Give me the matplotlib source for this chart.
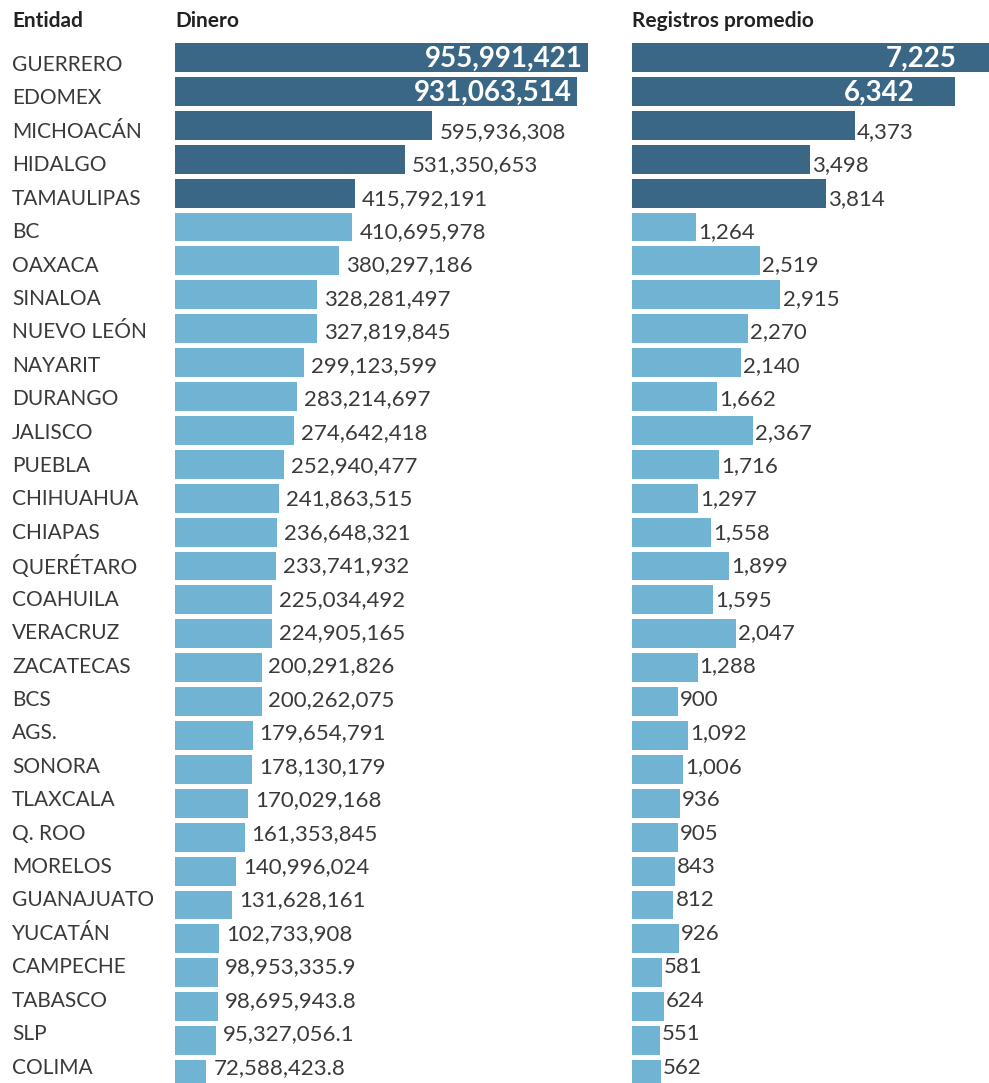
import matplotlib
matplotlib.use("Agg")
import matplotlib.pyplot as plt
from matplotlib.transforms import blended_transform_factory

entidades = ["GUERRERO", "EDOMEX", "MICHOACÁN", "HIDALGO", "TAMAULIPAS", "BC", "OAXACA",
             "SINALOA", "NUEVO LEÓN", "NAYARIT", "DURANGO", "JALISCO", "PUEBLA", "CHIHUAHUA",
             "CHIAPAS", "QUERÉTARO", "COAHUILA", "VERACRUZ", "ZACATECAS", "BCS", "AGS.",
             "SONORA", "TLAXCALA", "Q. ROO", "MORELOS", "GUANAJUATO", "YUCATÁN", "CAMPECHE",
             "TABASCO", "SLP", "COLIMA"]
dinero = [955991421, 931063514, 595936308, 531350653, 415792191, 410695978, 380297186,
          328281497, 327819845, 299123599, 283214697, 274642418, 252940477, 241863515,
          236648321, 233741932, 225034492, 224905165, 200291826, 200262075, 179654791,
          178130179, 170029168, 161353845, 140996024, 131628161, 102733908, 98953335.9,
          98695943.8, 95327056.1, 72588423.8]
dinero_txt = ["955,991,421", "931,063,514", "595,936,308", "531,350,653", "415,792,191",
              "410,695,978", "380,297,186", "328,281,497", "327,819,845", "299,123,599",
              "283,214,697", "274,642,418", "252,940,477", "241,863,515", "236,648,321",
              "233,741,932", "225,034,492", "224,905,165", "200,291,826", "200,262,075",
              "179,654,791", "178,130,179", "170,029,168", "161,353,845", "140,996,024",
              "131,628,161", "102,733,908", "98,953,335.9", "98,695,943.8", "95,327,056.1",
              "72,588,423.8"]
registros = [7225, 6342, 4373, 3498, 3814, 1264, 2519, 2915, 2270, 2140, 1662, 2367, 1716,
             1297, 1558, 1899, 1595, 2047, 1288, 900, 1092, 1006, 936, 905, 843, 812, 926,
             581, 624, 551, 562]

DARK = "#3b6787"
LIGHT = "#70b3d3"
TXT = "#3a3a3a"
FONT = ["Lato", "DejaVu Sans"]

W, H = 989, 1083
fig = plt.figure(figsize=(W / 100, H / 100), dpi=100)
n = len(entidades)

# bar rows
row = 33.9
top = 57.5 - row / 2
bottom = top + row * n
ax_y0 = 1 - bottom / H
ax_h = (bottom - top) / H

ax1 = fig.add_axes([175 / W, ax_y0, 432 / W, ax_h])
ax2 = fig.add_axes([632 / W, ax_y0, 368 / W, ax_h])

# text rows (slightly tighter pitch than the bars in the original)
trow = 33.42
t0 = 65.0
axt = fig.add_axes([0, 0, 1, 1])
axt.set_ylim((H - t0) / trow, -t0 / trow)
axt.axis("off")
axt.patch.set_alpha(0)

colors = [DARK if i < 5 else LIGHT for i in range(n)]
ypos = list(range(n))

ax1.barh(ypos, dinero, height=0.85, color=colors)
ax2.barh(ypos, registros, height=0.85, color=colors)
ax1.set_xlim(0, 1.0e9)
ax2.set_xlim(0, 7225)

for ax in (ax1, ax2):
    ax.set_ylim(n - 0.5, -0.5)
    ax.axis("off")

tr1 = blended_transform_factory(ax1.transData, axt.transData)
tr2 = blended_transform_factory(ax2.transData, axt.transData)

# value labels
for i in range(n):
    if i < 2:
        ax1.annotate(dinero_txt[i], (dinero[i], i + 0.05), xytext=(-3.5, 0), textcoords="offset points",
                     ha="right", va="center", color="white", fontsize=20, fontweight="bold",
                     family=FONT)
    else:
        ax1.annotate(dinero_txt[i], (dinero[i], i), xycoords=tr1, xytext=(5, 0),
                     textcoords="offset points", ha="left", va="center", color=TXT,
                     fontsize=16, family=FONT)
    lab = f"{registros[i]:,}"
    if i < 2:
        off = -31 if i == 0 else -29
        ax2.annotate(lab, (registros[i], i + 0.05), xytext=(off, 0), textcoords="offset points",
                     ha="right", va="center", color="white", fontsize=20, fontweight="bold",
                     family=FONT)
    else:
        ax2.annotate(lab, (registros[i], i), xycoords=tr2, xytext=(1.5, 0),
                     textcoords="offset points", ha="left", va="center", color=TXT,
                     fontsize=16, family=FONT)

# entity names
trn = blended_transform_factory(fig.transFigure, axt.transData)
for i, name in enumerate(entidades):
    axt.text(12 / W, i, name, transform=trn, ha="left", va="center", color=TXT,
             fontsize=15, family=FONT)

# headers
hy = 1 - 21 / H
for x, t in [(12, "Entidad"), (175, "Dinero"), (632, "Registros promedio")]:
    fig.text(x / W, hy, t, fontsize=15, fontweight="bold", color="#222222",
             va="center", family=FONT)

fig.savefig("out.png", dpi=100, facecolor="white")
